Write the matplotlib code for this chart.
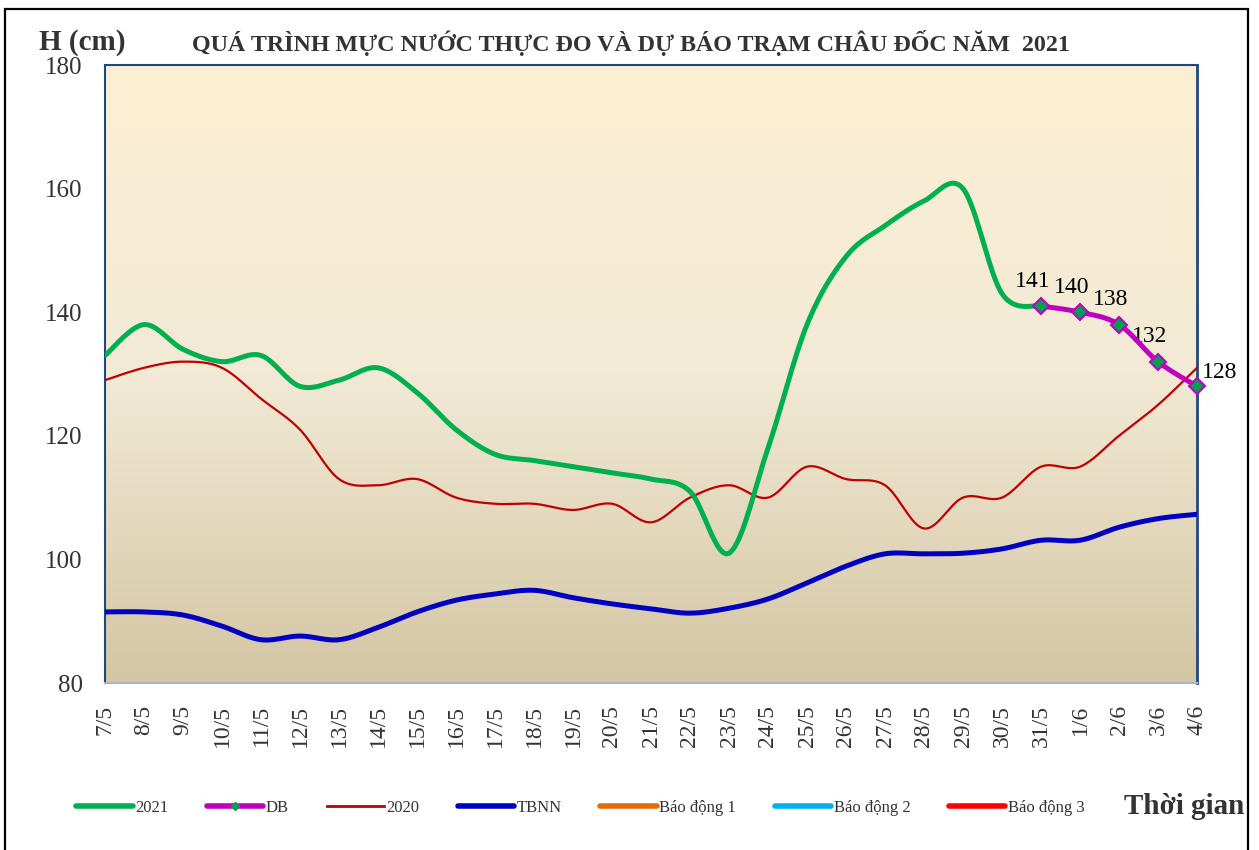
import matplotlib.pyplot as plt
import numpy as np
from matplotlib.lines import Line2D
from matplotlib.patches import Rectangle
from matplotlib.colors import LinearSegmentedColormap

plt.rcParams['font.family'] = ['Liberation Serif', 'DejaVu Serif']

# ngày (trục hoành)
days = ["7/5", "8/5", "9/5", "10/5", "11/5", "12/5", "13/5", "14/5", "15/5",
        "16/5", "17/5", "18/5", "19/5", "20/5", "21/5", "22/5", "23/5", "24/5",
        "25/5", "26/5", "27/5", "28/5", "29/5", "30/5", "31/5", "1/6", "2/6",
        "3/6", "4/6"]

# mực nước thực đo 2021 (đến 31/5)
h2021 = [133, 138, 134, 132, 133, 128, 129, 131, 127, 121, 117, 116, 115, 114,
         113, 111, 101, 118, 138, 149, 154, 158, 160, 143, 141]
# dự báo
db_days = ["31/5", "1/6", "2/6", "3/6", "4/6"]
h_db = [141, 140, 138, 132, 128]
# năm 2020
h2020 = [129, 131, 132, 131, 126, 121, 113, 112, 113, 110, 109, 109, 108, 109,
         106, 110, 112, 110, 115, 113, 112, 105, 110, 110, 115, 115, 120, 125, 131]
# trung bình nhiều năm
tbnn = [91.5, 91.5, 91.0, 89.2, 87.0, 87.6, 87.0, 89.0, 91.5, 93.4, 94.4, 95.0,
        93.8, 92.8, 92.0, 91.3, 92.1, 93.6, 96.2, 98.9, 100.9, 100.9, 101.0,
        101.7, 103.1, 103.1, 105.2, 106.6, 107.3]


def smooth(x, y, n=20):
    # đường cong kiểu "smoothed line" của Excel (Catmull-Rom)
    x = np.asarray(x, float)
    y = np.asarray(y, float)
    px = np.concatenate([[x[0]], x, [x[-1]]])
    py = np.concatenate([[y[0]], y, [y[-1]]])
    t = np.linspace(0, 1, n)
    xs, ys = [], []
    for i in range(1, len(px) - 2):
        for p, out in ((px, xs), (py, ys)):
            p0, p1, p2, p3 = p[i - 1], p[i], p[i + 1], p[i + 2]
            b1 = p1 + (p2 - p0) / 6
            b2 = p2 - (p3 - p1) / 6
            out.extend((1 - t) ** 3 * p1 + 3 * (1 - t) ** 2 * t * b1
                       + 3 * (1 - t) * t ** 2 * b2 + t ** 3 * p2)
    return np.array(xs), np.array(ys)


fig = plt.figure(figsize=(12.59, 8.5), dpi=100)
ax = fig.add_axes([105 / 1259, 1 - 683 / 850, 1092 / 1259, 618 / 850])

# nền gradient
cmap = LinearSegmentedColormap.from_list("bg", ["#FDEFD3", "#F2EAD6", "#D4C6A4"])
grad = np.linspace(0, 1, 256).reshape(-1, 1)
ax.imshow(grad, extent=[0, 1, 0, 1], transform=ax.transAxes, aspect='auto',
          cmap=cmap, zorder=0)

xi = np.arange(len(days))
x2021 = xi[:len(h2021)]
xdb = [days.index(d) for d in db_days]

sx, sy = smooth(xi, h2020)
ax.plot(sx, sy, color="#C00000", lw=1.6, zorder=3)
sx, sy = smooth(xi, tbnn)
ax.plot(sx, sy, color="#0000C0", lw=3.6, solid_capstyle='round', zorder=3)
sx, sy = smooth(x2021, h2021)
ax.plot(sx, sy, color="#00B050", lw=3.6, solid_capstyle='round', zorder=4)
sx, sy = smooth(xdb, h_db)
ax.plot(sx, sy, color="#C000C0", lw=3.6, solid_capstyle='round', zorder=5)
ax.plot(xdb, h_db, ls='none', marker='D', ms=8, mfc="#00A050",
        mec="#C000C0", mew=1.5, zorder=6, clip_on=False)

for i, (x, v) in enumerate(zip(xdb, h_db)):
    if i == len(h_db) - 1:
        ax.annotate(str(v), (x, v), xytext=(16, 10), textcoords='offset points',
                    ha='center', va='center', fontsize=17, annotation_clip=False)
    else:
        ax.annotate(str(v), (x, v), xytext=(-6, 18), textcoords='offset points',
                    ha='center', va='center', fontsize=17)

ax.set_xlim(0, len(days) - 1)
ax.set_ylim(80, 180)
ax.set_yticks(np.arange(80, 181, 20))
ax.set_xticks(xi)
ax.set_xticklabels(days, rotation=90)
ax.tick_params(axis='y', length=0, pad=16, labelsize=18, labelcolor="#333333")
ax.tick_params(axis='x', length=0, pad=16, labelsize=17, labelcolor="#333333")
for s in ['left', 'right', 'top']:
    ax.spines[s].set_color("#1F497D")
    ax.spines[s].set_linewidth(1.5)
ax.spines['right'].set_linewidth(2)
ax.spines['bottom'].set_color("#A6B4C8")
ax.spines['bottom'].set_linewidth(1.5)

fig.text(39 / 1259, 1 - 42 / 850, "H (cm)", fontsize=21, fontweight='bold',
         color="#333333", va='center', ha='left')
fig.text(631 / 1259, 1 - 43 / 850,
         "QUÁ TRÌNH MỰC NƯỚC THỰC ĐO VÀ DỰ BÁO TRẠM CHÂU ĐỐC NĂM  2021",
         fontsize=17.3, fontweight='bold', color="#333333", va='center', ha='center')
fig.text(1124 / 1259, 1 - 806 / 850, "Thời gian", fontsize=21, fontweight='bold',
         color="#333333", va='center', ha='left')

handles = [
    Line2D([], [], color="#00B050", lw=4, solid_capstyle='round'),
    Line2D([], [], color="#C000C0", lw=4, solid_capstyle='round', marker='D',
           ms=4, mfc="#00A050", mec="#00A050"),
    Line2D([], [], color="#C00000", lw=2),
    Line2D([], [], color="#0000C0", lw=4, solid_capstyle='round'),
    Line2D([], [], color="#E36C09", lw=4, solid_capstyle='round'),
    Line2D([], [], color="#00B0F0", lw=4, solid_capstyle='round'),
    Line2D([], [], color="#FF0000", lw=4, solid_capstyle='round'),
]
labels = ["2021", "DB", "2020", "TBNN", "Báo động 1", "Báo động 2", "Báo động 3"]
leg = fig.legend(handles, labels, loc='center left',
                 bbox_to_anchor=(76 / 1259, 1 - 808 / 850), ncol=7, frameon=False,
                 fontsize=12, handlelength=3.4, handletextpad=0.15,
                 columnspacing=2.3, borderpad=0, borderaxespad=0)
for t in leg.get_texts():
    t.set_color("#333333")

fig.patches.append(Rectangle((5 / 1259, -0.01), 1243 / 1259, 1.01 - 9 / 850,
                             transform=fig.transFigure, fill=False,
                             edgecolor='black', lw=1.6))

fig.savefig("out.png", dpi=100)
